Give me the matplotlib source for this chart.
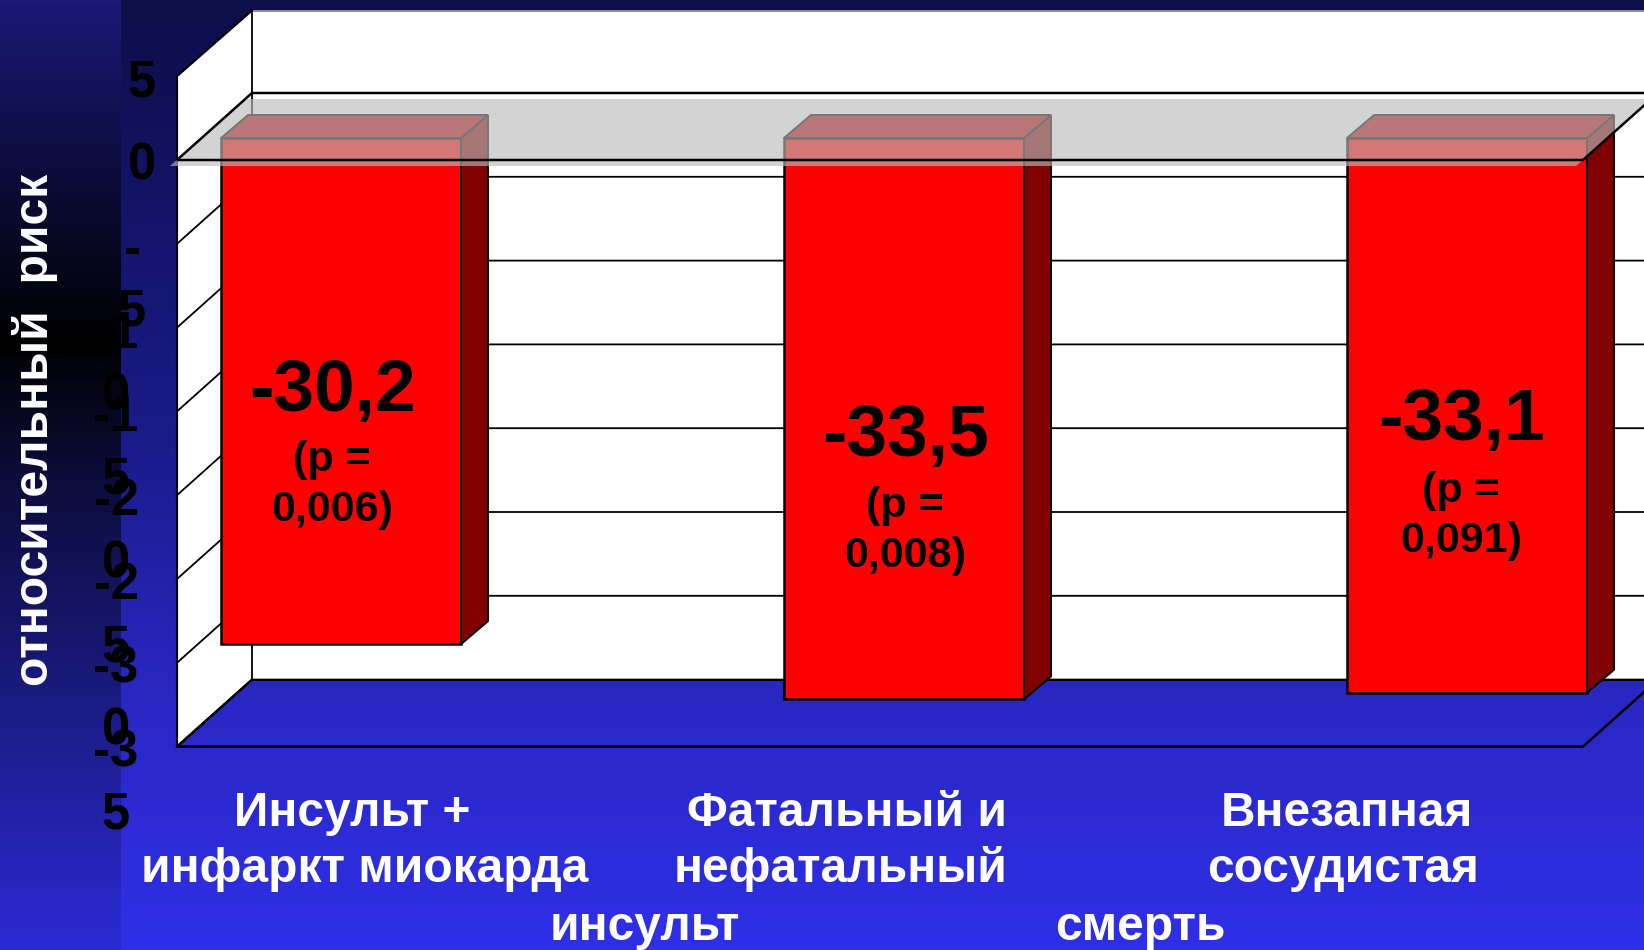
import numpy as np
import matplotlib
matplotlib.use("Agg")
import matplotlib.pyplot as plt
from matplotlib.patches import Polygon

plt.rcParams['font.family'] = ['Liberation Sans', 'DejaVu Sans']
plt.rcParams['font.weight'] = 'bold'

# Donnees
values = [-30.2, -33.5, -33.1]
p_values = ["0,006", "0,008", "0,091"]
value_labels = ["-30,2", "-33,5", "-33,1"]
ticks = [5, 0, -5, -10, -15, -20, -25, -30, -35]
tick_labels = ["5", "0", "-\n5", "-1\n0", "-1\n5", "-2\n0", "-2\n5", "-3\n0", "-3\n5"]
cat_lines = [["Инсульт +", "инфаркт миокарда", "инсульт"],
             ["Фатальный и", "нефатальный", "смерть"],
             ["Внезапная", "сосудистая"]]
y_title = "относительный  риск"

W, H = 1644, 950
X0, XSTEP = 341, 563      # pixel du centre de la 1re barre, ecart entre barres
Y0, YUNIT = 160, 16.76    # pixel du zero, pixels par unite


def dx(px):
    return px / XSTEP


def dy(px):
    return px / YUNIT


def X(px):
    return (px - X0) / XSTEP


def Y(py):
    return (Y0 - py) / YUNIT


fig = plt.figure(figsize=(W / 100, H / 100), dpi=100)
ax = fig.add_axes([0, 0, 1, 1])
ax.axis('off')

# Fond en degrade
ys = np.linspace(0, 1, 300)
main_stops = [(13, 13, 72), (28, 28, 145), (41, 39, 192), (47, 47, 232)]
left_stops = [(25, 25, 118), (12, 12, 60), (0, 0, 0), (12, 12, 58), (27, 27, 130), (42, 42, 212)]
main_pos = [0, 0.5, 0.72, 1]
left_pos = [0, 0.18, 0.36, 0.5, 0.74, 1]
bg = np.zeros((300, 2, 3))
for c in range(3):
    bg[:, 1, c] = np.interp(ys, main_pos, [s[c] for s in main_stops])
    bg[:, 0, c] = np.interp(ys, left_pos, [s[c] for s in left_stops])
ax.imshow(bg[:, 1:, :] / 255, extent=(X(0), X(W), Y(H), Y(0)), aspect='auto', zorder=0)
ax.imshow(bg[:, :1, :] / 255, extent=(X(0), X(121), Y(H), Y(0)), aspect='auto', zorder=0)

# Parois du graphique 3D
front_l, front_r = X(177), X(1583)
back_shift_x, back_shift_y = dx(75), dy(67)
back_l, back_r = front_l + back_shift_x, front_r + back_shift_x
vmin, vmax = min(ticks), max(ticks)
wall_top = vmax + back_shift_y - dy(1.3)

ax.add_patch(Polygon([(back_l, wall_top), (back_r, wall_top),
                      (back_r, vmin + back_shift_y), (back_l, vmin + back_shift_y)],
                     fc='white', ec='none', zorder=1))
ax.add_patch(Polygon([(front_l, vmax), (back_l, wall_top),
                      (back_l, vmin + back_shift_y), (front_l, vmin)],
                     fc='white', ec='none', zorder=1))

# Grille
for t in ticks[2:]:
    ax.plot([front_l, back_l, back_r], [t, t + back_shift_y, t + back_shift_y],
            color='black', lw=1.3, zorder=2, solid_joinstyle='miter')
ax.plot([back_l, back_r], [wall_top, wall_top], color='#8c8c8c', lw=1.4, zorder=2)
ax.plot([front_l, back_l], [vmax, wall_top], color='black', lw=1.5, zorder=2)
ax.plot([back_l, back_l], [vmin + back_shift_y, wall_top], color='black', lw=1.3, zorder=2)
ax.plot([front_l, front_l], [vmin, vmax], color='black', lw=1.5, zorder=2)
# Sol
ax.plot([back_l, back_r], [vmin + back_shift_y] * 2, color='black', lw=1.5, zorder=2)
ax.plot([back_l, front_l, front_r, back_r],
        [vmin + back_shift_y, vmin, vmin, vmin + back_shift_y], color='black', lw=1.8, zorder=2)

# Barres
cats = np.arange(len(values))
bar_w = dx(240)
bar_dx, bar_dy = dx(27), dy(23)
bar_base = dy(22)
ax.bar(cats, values, width=bar_w, bottom=bar_base, color='#ff0000',
       edgecolor='black', linewidth=1.8, zorder=3)
for c, v in zip(cats, values):
    r = c + bar_w / 2
    l = c - bar_w / 2
    ax.add_patch(Polygon([(r, bar_base), (r + bar_dx, bar_base + bar_dy),
                          (r + bar_dx, bar_base + v + bar_dy), (r, bar_base + v)],
                         fc='#800000', ec='black', lw=1.4, zorder=3))
    ax.add_patch(Polygon([(l, bar_base), (l + bar_dx, bar_base + bar_dy),
                          (r + bar_dx, bar_base + bar_dy), (r, bar_base)],
                         fc='#b70000', ec='black', lw=1.4, zorder=3))

# Plan gris translucide du zero
plane_dx, plane_dy = dx(-7), dy(-6)
ax.add_patch(Polygon([(front_l + plane_dx, plane_dy), (front_r + plane_dx, plane_dy),
                      (back_r + plane_dx, back_shift_y + plane_dy),
                      (back_l + plane_dx, back_shift_y + plane_dy)],
                     fc=(187 / 255, 187 / 255, 187 / 255), alpha=0.64, ec='none', zorder=5))
ax.plot([back_r, back_l, front_l, front_r, back_r],
        [back_shift_y, back_shift_y, 0, 0, back_shift_y],
        color='black', lw=1.8, zorder=6, solid_joinstyle='miter')

# Etiquettes des barres
label_pos = [(332, 392, 460), (905, 437, 506), (1461, 421, 491)]
for (px, py1, py2), lab, pv in zip(label_pos, value_labels, p_values):
    ax.text(X(px), Y(py1), lab, fontsize=52.7, ha='center', va='center', color='black', zorder=7)
    ax.text(X(px), Y(py2), "(p =", fontsize=31, ha='center', va='center', color='black', zorder=7)
    ax.text(X(px), Y(py2 + 50), pv + ")", fontsize=31, ha='center', va='center', color='black', zorder=7)

# Graduations (retour a la ligne comme sur la diapo)
tick_x = [142, 142, 132, 116, 116, 116, 116, 116, 116]
for tx, t, lab in zip(tick_x, ticks, tick_labels):
    parts = lab.split("\n")
    base = Y0 - YUNIT * t + 20
    ax.text(X(tx), Y(base), parts[0], fontsize=36.5, ha='center', va='baseline', color='black', zorder=1)
    if len(parts) == 2:
        ax.text(X(tx), Y(base + 62), parts[1], fontsize=36.5, ha='center', va='baseline', color='black', zorder=1)

# Categories
cat_x = [[352, 365, 645], [847, 841, 1140], [1347, 1343]]
cat_y = [813, 869, 927]
for lines, xs in zip(cat_lines, cat_x):
    for i, (txt, px) in enumerate(zip(lines, xs)):
        ax.text(X(px), Y(cat_y[i]), txt, fontsize=34.5, ha='center', va='center', color='white', zorder=7)

ax.text(X(35), Y(430), y_title, fontsize=34.6, rotation=90, ha='center', va='center', color='white', zorder=7)

ax.set_xlim(X(0), X(W))
ax.set_ylim(Y(H), Y(0))
fig.savefig("out.png", dpi=100)
